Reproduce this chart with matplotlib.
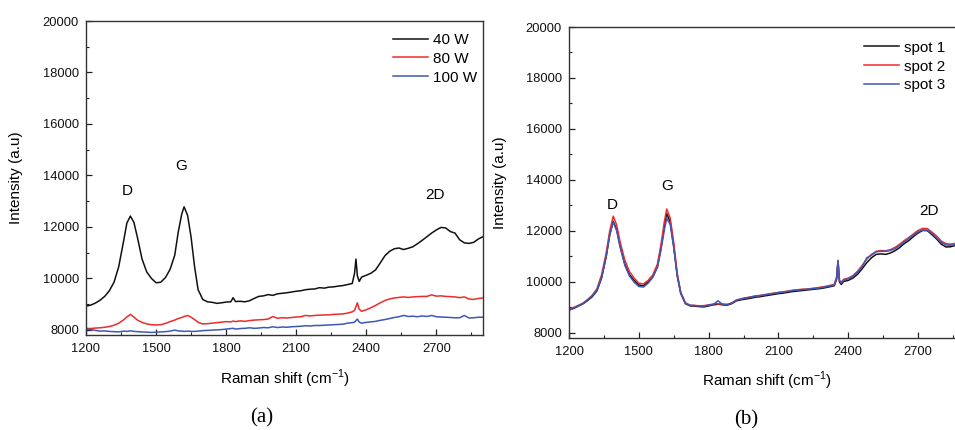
import matplotlib
matplotlib.use("Agg")
import matplotlib.pyplot as plt
from matplotlib.ticker import MultipleLocator

plt.rcParams['font.family'] = ['Liberation Sans', 'DejaVu Sans']

# ---------------- data ----------------
raman_shift = [1200, 1220, 1240, 1260, 1280, 1300, 1320, 1340, 1360, 1375,
               1390, 1405, 1420, 1440, 1460, 1480, 1500, 1520, 1540, 1560,
               1580, 1595, 1610, 1620, 1635, 1650, 1665, 1680, 1700, 1720,
               1740, 1760, 1780, 1800, 1820, 1830, 1840, 1860, 1880, 1900,
               1920, 1940, 1960, 1980, 2000, 2020, 2040, 2060, 2080, 2100,
               2120, 2140, 2160, 2180, 2200, 2220, 2240, 2260, 2280, 2300,
               2320, 2340, 2350, 2356, 2362, 2370, 2380, 2400, 2420, 2440,
               2460, 2480, 2500, 2520, 2540, 2560, 2580, 2600, 2620, 2640,
               2660, 2680, 2700, 2720, 2740, 2760, 2780, 2800, 2820, 2840,
               2860, 2880, 2900]

w40 = [8920, 8960, 9040, 9150, 9300, 9520, 9850, 10450, 11400, 12150,
       12420, 12180, 11600, 10750, 10250, 10000, 9830, 9850, 10030, 10350,
       10900, 11800, 12500, 12780, 12450, 11600, 10450, 9560, 9180, 9090,
       9070, 9030, 9050, 9080, 9090, 9250, 9100, 9110, 9090, 9130,
       9220, 9300, 9320, 9370, 9340, 9400, 9420, 9440, 9470, 9500,
       9520, 9560, 9580, 9590, 9640, 9620, 9660, 9670, 9700, 9720,
       9760, 9800, 10200, 10750, 10100, 9880, 10050, 10120, 10200, 10330,
       10600, 10880, 11050, 11150, 11180, 11120, 11170, 11230, 11350, 11480,
       11620, 11760, 11880, 11980, 11960, 11820, 11760, 11500, 11380, 11360,
       11400, 11530, 11620]

w80 = [8060, 8050, 8070, 8080, 8100, 8130, 8180, 8260, 8380, 8500,
       8600, 8500, 8380, 8290, 8230, 8200, 8190, 8200, 8250, 8320,
       8380, 8440, 8480, 8520, 8560, 8490, 8400, 8290, 8230, 8240,
       8260, 8280, 8300, 8320, 8310, 8340, 8320, 8350, 8330, 8360,
       8380, 8390, 8400, 8420, 8520, 8450, 8470, 8460, 8480, 8500,
       8510, 8560, 8540, 8560, 8570, 8580, 8580, 8600, 8610, 8620,
       8650, 8700, 8760, 8900, 9050, 8800, 8720, 8780, 8860, 8950,
       9050, 9140, 9200, 9240, 9260, 9280, 9260, 9280, 9290, 9300,
       9300, 9360, 9310, 9320, 9300, 9290, 9280, 9250, 9280, 9200,
       9180, 9220, 9240]

w100 = [8040, 8010, 7980, 7950, 7960, 7940, 7930, 7920, 7950, 7940,
        7960, 7940, 7930, 7920, 7910, 7900, 7910, 7920, 7930, 7950,
        7990, 7960, 7950, 7940, 7950, 7940, 7940, 7950, 7970, 7980,
        7990, 8000, 8010, 8030, 8050, 8060, 8030, 8050, 8060, 8080,
        8060, 8070, 8090, 8080, 8120, 8090, 8110, 8100, 8120, 8130,
        8140, 8160, 8150, 8170, 8170, 8180, 8190, 8200, 8210, 8220,
        8260, 8280, 8300, 8360, 8420, 8300, 8260, 8290, 8310, 8330,
        8370, 8400, 8440, 8480, 8510, 8560, 8520, 8530, 8510, 8540,
        8520, 8560, 8510, 8500, 8490, 8480, 8470, 8470, 8560, 8460,
        8470, 8490, 8490]

spot1 = [8900, 8960, 9050, 9140, 9270, 9420, 9650, 10150, 11000, 11850,
         12380, 12050, 11400, 10700, 10280, 10060, 9880, 9850, 10000, 10200,
         10600, 11300, 12200, 12680, 12350, 11400, 10250, 9550, 9150, 9060,
         9050, 9030, 9020, 9060, 9100, 9110, 9130, 9100, 9090, 9150,
         9260, 9300, 9330, 9360, 9400, 9420, 9450, 9480, 9510, 9540,
         9560, 9590, 9620, 9640, 9660, 9680, 9700, 9720, 9740, 9770,
         9810, 9850, 10100, 10800, 10000, 9900, 10020, 10060, 10150, 10300,
         10520, 10760, 10950, 11080, 11100, 11080, 11130, 11220, 11340, 11500,
         11620, 11780, 11920, 12020, 12010, 11850, 11680, 11480, 11370, 11380,
         11430, 11420, 11440]

spot2 = [8920, 9000, 9080, 9170, 9310, 9480, 9730, 10280, 11150, 12000,
         12580, 12230, 11550, 10850, 10400, 10150, 9950, 9920, 10060, 10270,
         10700, 11450, 12380, 12860, 12500, 11550, 10350, 9600, 9180, 9090,
         9080, 9060, 9070, 9100, 9130, 9150, 9140, 9130, 9110, 9180,
         9290, 9340, 9380, 9410, 9450, 9470, 9500, 9530, 9560, 9590,
         9610, 9640, 9670, 9690, 9710, 9720, 9740, 9760, 9790, 9820,
         9860, 9900, 10150, 10820, 10050, 9980, 10100, 10150, 10250, 10420,
         10650, 10900, 11080, 11200, 11230, 11220, 11260, 11350, 11470, 11620,
         11740, 11880, 12020, 12100, 12090, 11950, 11800, 11600, 11500, 11480,
         11510, 11500, 11520]

spot3 = [8890, 8970, 9060, 9150, 9290, 9450, 9680, 10180, 11020, 11850,
         12350, 12000, 11350, 10650, 10230, 9990, 9820, 9800, 9950, 10180,
         10580, 11250, 12050, 12500, 12250, 11350, 10250, 9580, 9170, 9080,
         9070, 9060, 9050, 9090, 9120, 9180, 9260, 9120, 9120, 9170,
         9290, 9330, 9370, 9400, 9440, 9460, 9490, 9520, 9550, 9580,
         9600, 9630, 9660, 9680, 9700, 9710, 9730, 9750, 9770, 9800,
         9840, 9880, 10200, 10850, 10080, 9960, 10080, 10120, 10210, 10380,
         10600, 10950, 11050, 11180, 11200, 11200, 11230, 11300, 11420, 11560,
         11700, 11840, 11960, 12040, 12030, 11900, 11720, 11550, 11450, 11440,
         11460, 11470, 11480]

labels_a = ['40 W', '80 W', '100 W']
labels_b = ['spot 1', 'spot 2', 'spot 3']
peak_names = ['D', 'G', '2D']

# ---------------- figure ----------------
W, H = 955, 430
fig = plt.figure(figsize=(W / 100, H / 100), dpi=100)

def px_axes(l, t, r, b):
    return fig.add_axes([l / W, 1 - b / H, (r - l) / W, (b - t) / H])

axA = px_axes(86, 21, 483, 335)
axB = px_axes(569, 27, 964.6, 338)

colors = ['#111111', '#ee2b2b', '#3d58b6']

def style(ax, ylab_x, xlab_y):
    ax.set_xlim(1200, 2900)
    ax.set_ylim(7800, 20000)
    ax.xaxis.set_major_locator(MultipleLocator(300))
    ax.xaxis.set_minor_locator(MultipleLocator(150))
    ax.yaxis.set_major_locator(MultipleLocator(2000))
    ax.yaxis.set_minor_locator(MultipleLocator(1000))
    ax.tick_params(which='both', direction='in', colors='#222222',
                   labelcolor='#111111', labelsize=9.3)
    ax.tick_params(which='major', length=4, width=0.9)
    ax.tick_params(which='minor', length=2.5, width=0.8)
    ax.tick_params(axis='x', pad=5.5)
    ax.tick_params(axis='y', pad=5)
    for s in ax.spines.values():
        s.set_linewidth(1.0)
        s.set_color('#333333')
    ax.set_ylabel('Intensity (a.u)', fontsize=11)
    ax.set_xlabel('Raman shift (cm$^{\\mathregular{-1}}$)', fontsize=11)
    ax.yaxis.set_label_coords(ylab_x, 0.5)
    ax.xaxis.set_label_coords(0.5, xlab_y)

# panel (a)
for ys, lab, c in zip([w40, w80, w100], labels_a, colors):
    axA.plot(raman_shift, ys, color=c, lw=1.1, label=lab)
style(axA, -0.159, -0.105)
axA.legend(loc='upper left', bbox_to_anchor=(0.773, 0.962), frameon=False,
           borderpad=0, borderaxespad=0, handlelength=2.3, handletextpad=0.3,
           labelspacing=0.32, fontsize=11)
for name, (x, y) in zip(peak_names, [(1375, 13390), (1606, 14350), (2694, 13250)]):
    axA.text(x, y, name, ha='center', va='center', fontsize=11)

# panel (b)
for ys, lab, c in zip([spot1, spot2, spot3], labels_b, colors):
    axB.plot(raman_shift, ys, color=c, lw=1.1, label=lab)
style(axB, -0.157, -0.103)
axB.legend(loc='upper left', bbox_to_anchor=(0.746, 0.956), frameon=False,
           borderpad=0, borderaxespad=0, handlelength=2.3, handletextpad=0.3,
           labelspacing=0.32, fontsize=11)
for name, (x, y) in zip(peak_names, [(1385, 13010), (1621, 13750), (2748, 12780)]):
    axB.text(x, y, name, ha='center', va='center', fontsize=11)

fig.text(262 / W, 1 - 418 / H, '(a)', ha='center', va='center',
         family='Liberation Serif', fontsize=15)
fig.text(746 / W, 1 - 420 / H, '(b)', ha='center', va='center',
         family='Liberation Serif', fontsize=15)

fig.savefig('out.png', dpi=100)
